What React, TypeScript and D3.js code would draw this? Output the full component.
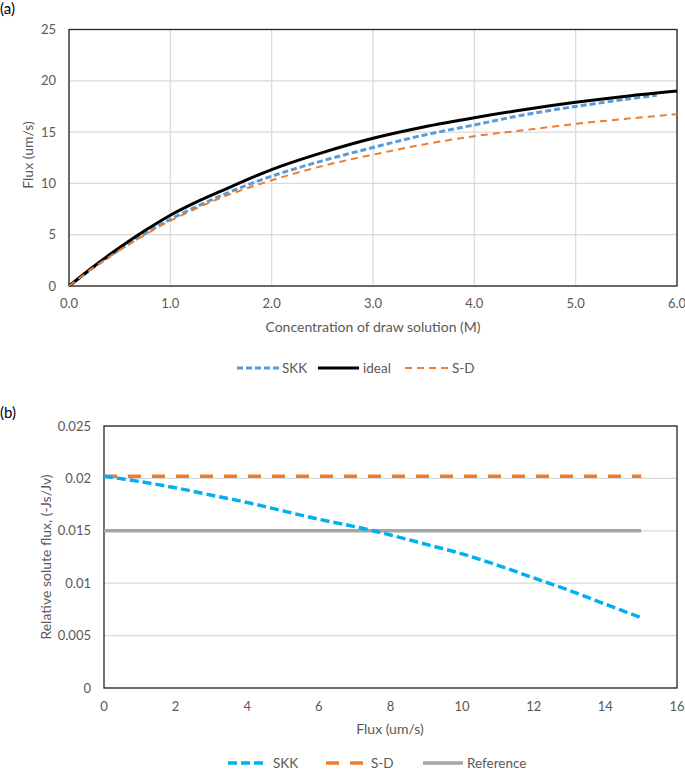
import React from "react";
import * as d3 from "d3";

// ---------- Chart (a) data ----------
const concIdeal = [0, 0.25, 0.5, 0.75, 1, 1.25, 1.5, 2, 2.5, 3, 3.5, 4, 4.5, 5, 5.5, 6];
const fluxIdeal = [0, 1.95, 3.75, 5.4, 6.9, 8.15, 9.25, 11.35, 13.0, 14.4, 15.5, 16.4, 17.2, 17.9, 18.5, 19.0];
const concSKK = [0, 0.25, 0.5, 0.75, 1, 1.5, 2, 2.5, 3, 3.5, 4, 4.5, 5, 5.5, 5.8];
const fluxSKK = [0, 1.85, 3.55, 5.1, 6.5, 8.8, 10.7, 12.2, 13.5, 14.7, 15.7, 16.7, 17.5, 18.2, 18.6];
const concSD = [0, 0.25, 0.5, 0.75, 1, 1.5, 2, 2.5, 3, 3.5, 4, 4.5, 5, 5.5, 6];
const fluxSD = [0, 1.85, 3.5, 5.0, 6.35, 8.6, 10.3, 11.7, 12.8, 13.8, 14.6, 15.2, 15.8, 16.3, 16.75];
const aXTicks = [0, 1, 2, 3, 4, 5, 6];
const aYTicks = [0, 5, 10, 15, 20, 25];

// ---------- Chart (b) data ----------
const fluxB = [0, 1, 2, 3, 4, 5, 6, 7, 8, 9, 10, 11, 12, 13, 14, 15];
const relSKK = [0.0202, 0.0197, 0.0191, 0.0184, 0.0177, 0.0169, 0.0161, 0.0154, 0.0146, 0.0137, 0.0128, 0.0117, 0.0105, 0.0093, 0.008, 0.0067];
const fluxFlat = [0, 15];
const relSD = [0.0202, 0.0202];
const relRef = [0.015, 0.015];
const bXTicks = [0, 2, 4, 6, 8, 10, 12, 14, 16];
const bYTicks = [0, 0.005, 0.01, 0.015, 0.02, 0.025];

const FONT = "Lato, 'Open Sans', sans-serif";
const TICK = "#595959";
const GRID = "#D9D9D9";

function zip(xs: number[], ys: number[]): [number, number][] {
  return xs.map((x, i) => [x, ys[i]]);
}

export default function App() {
  // chart (a)
  const ax = d3.scaleLinear().domain([0, 6]).range([69, 677]);
  const ay = d3.scaleLinear().domain([0, 25]).range([286, 29.5]);
  const aLine = d3
    .line<[number, number]>()
    .x((d) => ax(d[0]))
    .y((d) => ay(d[1]))
    .curve(d3.curveCatmullRom.alpha(0.5));

  // chart (b)
  const bx = d3.scaleLinear().domain([0, 16]).range([104, 677]);
  const by = d3.scaleLinear().domain([0, 0.025]).range([688, 426]);
  const bLine = d3
    .line<[number, number]>()
    .x((d) => bx(d[0]))
    .y((d) => by(d[1]))
    .curve(d3.curveCatmullRom.alpha(0.5));

  return (
    <svg
      width={685}
      height={771}
      style={{ position: "absolute", left: 0, top: 0, background: "#fff" }}
      fontFamily={FONT}
    >
      <rect x={0} y={0} width={685} height={771} fill="#fff" />
      {/* ===== (a) ===== */}
      <text x={0} y={14} fontSize={15} fill="#000">(a)</text>
      {aXTicks.map((t) => (
        <line key={"agx" + t} x1={ax(t)} x2={ax(t)} y1={ay(0)} y2={ay(25)} stroke={GRID} strokeWidth={1.2} />
      ))}
      {aYTicks.map((t) => (
        <line key={"agy" + t} x1={ax(0)} x2={ax(6)} y1={ay(t)} y2={ay(t)} stroke={GRID} strokeWidth={1.2} />
      ))}
      <rect x={ax(0)} y={ay(25)} width={ax(6) - ax(0)} height={ay(0) - ay(25)} fill="none" stroke="#262626" strokeWidth={1.3} />
      {aYTicks.map((t) => (
        <text key={"aty" + t} x={56} y={ay(t)} dy="0.35em" textAnchor="end" fontSize={13} fill={TICK}>
          {t}
        </text>
      ))}
      {aXTicks.map((t) => (
        <text key={"atx" + t} x={ax(t)} y={303} dy="0.35em" textAnchor="middle" fontSize={13} fill={TICK}>
          {t.toFixed(1)}
        </text>
      ))}
      <text x={373} y={327} dy="0.35em" textAnchor="middle" fontSize={14} fill={TICK}>
        Concentration of draw solution (M)
      </text>
      <text transform="translate(28,155) rotate(-90)" dy="0.35em" textAnchor="middle" fontSize={14} fill={TICK}>
        Flux (um/s)
      </text>
      <path d={aLine(zip(concSKK, fluxSKK)) || ""} fill="none" stroke="#5B9BD5" strokeWidth={3} strokeDasharray="6 3" />
      <path d={aLine(zip(concIdeal, fluxIdeal)) || ""} fill="none" stroke="#000" strokeWidth={3} />
      <path d={aLine(zip(concSD, fluxSD)) || ""} fill="none" stroke="#ED7D31" strokeWidth={2} strokeDasharray="7 5" />
      {/* legend (a) */}
      <line x1={237} x2={279} y1={368} y2={368} stroke="#5B9BD5" strokeWidth={3} strokeDasharray="6 3" />
      <text x={282} y={368} dy="0.35em" fontSize={13.5} fill={TICK}>SKK</text>
      <line x1={318} x2={359} y1={368} y2={368} stroke="#000" strokeWidth={3} />
      <text x={363} y={368} dy="0.35em" fontSize={13.5} fill={TICK}>ideal</text>
      <line x1={405} x2={450} y1={368} y2={368} stroke="#ED7D31" strokeWidth={2} strokeDasharray="7 5" />
      <text x={452} y={368} dy="0.35em" fontSize={13.5} fill={TICK}>S-D</text>

      {/* ===== (b) ===== */}
      <text x={0} y={418} fontSize={15} fill="#000">(b)</text>
      {bYTicks.map((t) => (
        <line key={"bgy" + t} x1={bx(0)} x2={bx(16)} y1={by(t)} y2={by(t)} stroke={GRID} strokeWidth={1.2} />
      ))}
      <rect x={bx(0)} y={by(0.025)} width={bx(16) - bx(0)} height={by(0) - by(0.025)} fill="none" stroke="#262626" strokeWidth={1.3} />
      {bYTicks.map((t) => (
        <text key={"bty" + t} x={91} y={by(t)} dy="0.35em" textAnchor="end" fontSize={13} fill={TICK}>
          {String(t)}
        </text>
      ))}
      {bXTicks.map((t) => (
        <text key={"btx" + t} x={bx(t)} y={706} dy="0.35em" textAnchor="middle" fontSize={13} fill={TICK}>
          {t}
        </text>
      ))}
      <text x={390} y={729} dy="0.35em" textAnchor="middle" fontSize={14} fill={TICK}>
        Flux (um/s)
      </text>
      <text transform="translate(46,557) rotate(-90)" dy="0.35em" textAnchor="middle" fontSize={14} fill={TICK}>
        Relative solute flux, (-Js/Jv)
      </text>
      <path d={bLine(zip(fluxFlat, relRef)) || ""} fill="none" stroke="#A5A5A5" strokeWidth={3.5} />
      <path d={bLine(zip(fluxFlat, relSD)) || ""} fill="none" stroke="#ED7D31" strokeWidth={3.5} strokeDasharray="13 11" />
      <path d={bLine(zip(fluxB, relSKK)) || ""} fill="none" stroke="#00B0F0" strokeWidth={3.5} strokeDasharray="9 4" />
      {/* legend (b) */}
      <line x1={228} x2={266} y1={763} y2={763} stroke="#00B0F0" strokeWidth={3.5} strokeDasharray="9 4" />
      <text x={273} y={763} dy="0.35em" fontSize={13.5} fill={TICK}>SKK</text>
      <line x1={326} x2={363} y1={763} y2={763} stroke="#ED7D31" strokeWidth={3.5} strokeDasharray="13 11" />
      <text x={371} y={763} dy="0.35em" fontSize={13.5} fill={TICK}>S-D</text>
      <line x1={423} x2={463} y1={763} y2={763} stroke="#A5A5A5" strokeWidth={3.5} />
      <text x={467} y={763} dy="0.35em" fontSize={13.5} fill={TICK}>Reference</text>
    </svg>
  );
}
